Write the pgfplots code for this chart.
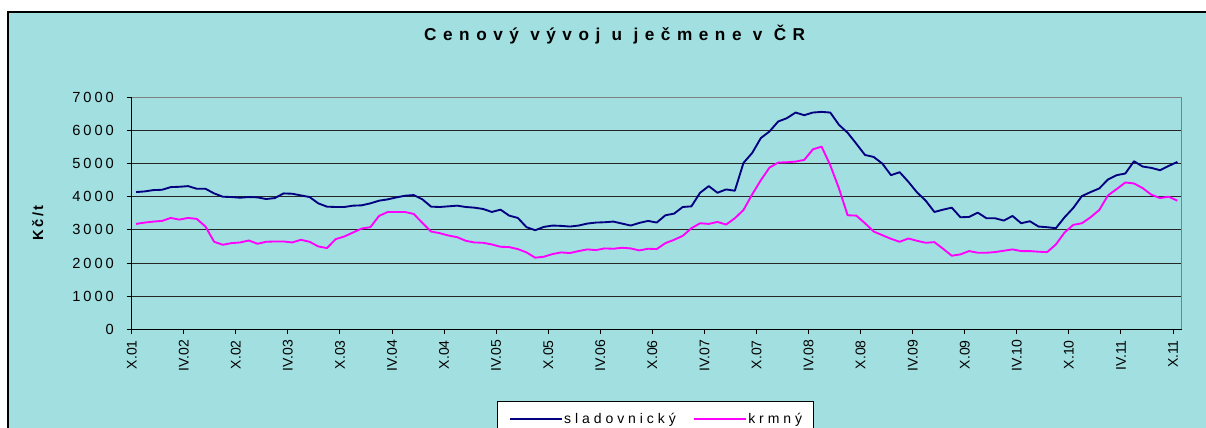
\documentclass[border=0pt]{standalone}
\usepackage{fontspec}
\setmainfont{Liberation Sans}
\newfontfamily\titlefont[LetterSpace=38]{Liberation Sans}
\newfontfamily\legfont[LetterSpace=28]{Liberation Sans}
\newfontfamily\yfont[LetterSpace=20]{Liberation Sans}
\newfontfamily\ylabfont[LetterSpace=16]{Liberation Sans}
\usepackage{pgfplots}
\usepackage{pgfplotstable}
\pgfplotsset{compat=1.18}
\definecolor{bgteal}{RGB}{161,223,224}
\definecolor{navyl}{RGB}{0,0,128}
\definecolor{magl}{RGB}{255,0,255}

\pgfplotstableread{
i s k
0 4140 3180
1 4160 3220
2 4200 3250
3 4210 3270
4 4290 3360
5 4300 3310
6 4320 3360
7 4240 3330
8 4240 3100
9 4100 2640
10 4000 2550
11 3990 2600
12 3970 2620
13 3990 2680
14 3980 2580
15 3930 2640
16 3960 2650
17 4100 2650
18 4090 2620
19 4040 2700
20 3990 2640
21 3800 2500
22 3700 2450
23 3690 2720
24 3690 2800
25 3730 2920
26 3740 3040
27 3800 3080
28 3880 3420
29 3920 3540
30 3980 3540
31 4030 3540
32 4050 3480
33 3920 3210
34 3700 2950
35 3690 2900
36 3710 2830
37 3730 2780
38 3690 2670
39 3670 2620
40 3630 2610
41 3540 2560
42 3610 2490
43 3430 2480
44 3360 2420
45 3080 2320
46 2990 2160
47 3090 2190
48 3130 2270
49 3120 2320
50 3100 2300
51 3130 2360
52 3190 2410
53 3220 2390
54 3230 2440
55 3250 2430
56 3190 2460
57 3130 2440
58 3210 2380
59 3270 2430
60 3220 2420
61 3440 2600
62 3490 2700
63 3690 2820
64 3710 3050
65 4120 3200
66 4320 3180
67 4120 3240
68 4220 3160
69 4180 3350
70 5020 3600
71 5320 4070
72 5770 4500
73 5970 4880
74 6270 5030
75 6370 5040
76 6540 5060
77 6460 5110
78 6540 5430
79 6560 5510
80 6540 4950
81 6170 4250
82 5930 3440
83 5600 3430
84 5260 3200
85 5200 2950
86 5000 2840
87 4650 2730
88 4740 2640
89 4450 2740
90 4130 2670
91 3880 2610
92 3540 2630
93 3610 2430
94 3670 2220
95 3380 2260
96 3390 2360
97 3520 2310
98 3350 2310
99 3350 2330
100 3280 2370
101 3420 2410
102 3200 2360
103 3260 2360
104 3100 2340
105 3080 2330
106 3050 2560
107 3380 2920
108 3660 3150
109 4020 3200
110 4140 3380
111 4250 3600
112 4520 4040
113 4650 4230
114 4700 4430
115 5070 4400
116 4910 4260
117 4870 4060
118 4800 3960
119 4930 4000
120 5050 3880
}\data

\begin{document}
\begin{tikzpicture}
\useasboundingbox (0,0) rectangle (904.5pt,321pt);
\clip (0,0) rectangle (904.5pt,321pt);
\fill[white] (0,0) rectangle (904.5pt,321pt);
\fill[bgteal] (6pt,-5pt) rectangle (910pt,312pt);
\draw[black, line width=0.9pt] (6pt,-5pt) -- (6pt,312pt) -- (910pt,312pt);
\node[font=\titlefont\bfseries\fontsize{12.9}{15}\selectfont, anchor=base, inner sep=0pt] at (461pt,290.5pt) {Cenový vývoj u ječmene v ČR};
\node[font=\ylabfont\bfseries\fontsize{11}{13}\selectfont, rotate=90, anchor=base, inner sep=0pt] at (32.25pt,154pt) {Kč/t};
\begin{axis}[
  at={(98.78pt,74.03pt)}, anchor=south west,
  scale only axis, width=787.5pt, height=174pt,
  xmin=-0.5, xmax=120.5, ymin=0, ymax=7000,
  xtick={-0.5,5.5,11.5,17.5,23.5,29.5,35.5,41.5,47.5,53.5,59.5,65.5,71.5,77.5,83.5,89.5,95.5,101.5,107.5,113.5,119.5},
  xticklabels={X.01,IV.02,X.02,IV.03,X.03,IV.04,X.04,IV.05,X.05,IV.06,X.06,IV.07,X.07,IV.08,X.08,IV.09,X.09,IV.10,X.10,IV.11,X.11},
  ytick={0,1000,2000,3000,4000,5000,6000,7000},
  yticklabels={0,1000,2000,3000,4000,5000,6000,7000},
  tick align=outside, major tick length=3.75pt, tick pos=left,
  tick style={black, line width=0.75pt},
  ymajorgrids, major grid style={black!85, line width=0.7pt},
  axis line style={draw=black!50, line width=0.9pt},
  yticklabel style={font=\yfont\fontsize{11}{13}\selectfont, anchor=east, inner sep=0pt, xshift=-9.5pt},
  xticklabel style={font=\fontsize{10.5}{12}\selectfont, yshift=-4.25pt, rotate=90, anchor=east, inner sep=0pt},
  legend columns=2,
  legend style={at={(0.4989,-0.3078)}, anchor=north, draw=black, line width=0.75pt, fill=white,
    inner xsep=8.5pt, inner ysep=9pt, font=\legfont\fontsize{10.5}{12}\selectfont,
    nodes={inner sep=0pt},
    /tikz/every odd column/.append style={column sep=1.3pt},
    /tikz/every even column/.append style={column sep=13pt}},
  legend image code/.code={\draw[#1,line width=1.4pt] (0pt,0pt) -- (38.7pt,0pt); \path (0pt,-2.4pt);},
]
\addplot[navyl, line width=1.4pt, line join=round] table[x=i,y=s]{\data};
\addlegendentry{sladovnický}
\addplot[magl, line width=1.4pt, line join=round] table[x=i,y=k]{\data};
\addlegendentry{krmný}
\end{axis}
\draw[black, line width=0.9pt] (98.78pt,248.03pt) -- (98.78pt,74.03pt) -- (886.28pt,74.03pt);
\end{tikzpicture}
\end{document}
